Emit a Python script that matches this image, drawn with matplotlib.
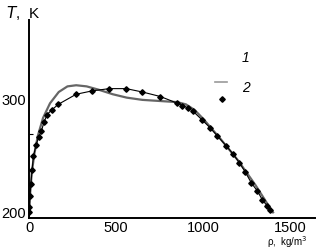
import matplotlib.pyplot as plt
from matplotlib.lines import Line2D

plt.rcParams['font.family'] = ['Liberation Sans', 'DejaVu Sans']

# curve 1 (gray line)
rho1 = [0, 5, 15, 30, 50, 80, 120, 170, 220, 270, 330, 400, 480, 560, 650,
        750, 850, 900, 950, 1000, 1100, 1200, 1300, 1370, 1400]
T1 = [200, 215, 235, 252, 268, 284, 297, 307, 312, 313, 312, 309, 305, 302,
      300, 299, 298, 296, 291, 283, 265, 246, 224, 207, 200]

# curve 2 (diamonds)
rho2 = [0, 2, 5, 10, 17, 25, 40, 55, 70, 85, 103, 130, 167, 270, 362, 460,
        557, 650, 753, 851, 880, 910, 940, 994, 1040, 1080, 1132, 1170, 1207,
        1240, 1276, 1310, 1339, 1365, 1385]
T2 = [200, 205, 215, 225, 238, 250, 260, 267, 272, 280, 287, 291, 296, 305,
      308, 310, 310, 307, 303, 297, 295, 293, 290, 282, 275, 268, 259, 252,
      244, 236, 226, 219, 211, 206, 202]

xticks = [0, 500, 1000, 1500]
yticks = [200, 300]

fig = plt.figure(figsize=(3.2, 2.5), dpi=100)
ax = fig.add_axes([0.091, 0.128, 0.893, 0.792])

ax.plot(rho1, T1, color='#666666', lw=1.6)
ax.plot(rho2, T2, color='black', lw=0.8, marker='D', ms=2.8)

ax.set_xlim(0, 1640)
ax.set_ylim(195, 371)
ax.set_xticks(xticks)
ax.set_yticks(yticks)
ax.set_yticks([270], minor=True)
ax.tick_params(axis='both', length=0, labelsize=10.5, pad=2)
ax.tick_params(axis='y', which='minor', length=3, direction='in', width=0.8)
for s in ['top', 'right']:
    ax.spines[s].set_visible(False)
for s in ['left', 'bottom']:
    ax.spines[s].set_linewidth(1.4)

fig.text(0.02, 0.95, '$T$,  K', fontsize=11, va='center')
fig.text(0.835, 0.03, 'ρ,  kg/m$^3$', fontsize=7, va='center')

# legend
fig.text(0.755, 0.77, '1', fontsize=10, style='italic', va='center')
fig.text(0.755, 0.648, '2', fontsize=10, style='italic', va='center')
fig.add_artist(Line2D([0.673, 0.71], [0.672, 0.672], color='#999999', lw=1.2))
fig.add_artist(Line2D([0.695], [0.603], color='black', marker='D', ms=2.8))

fig.savefig('out.png', dpi=100)
